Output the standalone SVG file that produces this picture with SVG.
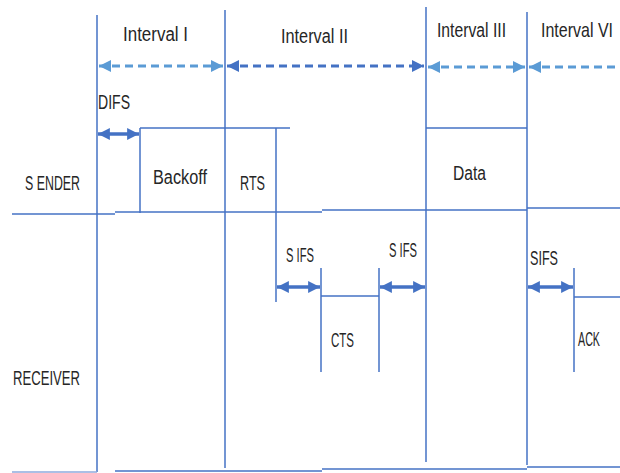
<svg xmlns="http://www.w3.org/2000/svg" width="620" height="473" viewBox="0 0 620 473">
<style>
.ln{stroke:#4472C4;stroke-width:1.5;fill:none}
.lt{stroke:#8FAADC;stroke-width:1.6;fill:none}
.d1{stroke:#5B9BD5;stroke-width:3;stroke-dasharray:8 5;fill:none}
.d2{stroke:#4472C4;stroke-width:3;stroke-dasharray:8 5;fill:none}
.sa{stroke:#4472C4;stroke-width:3.5;fill:none}
.t{font-family:"Liberation Sans",Arial,sans-serif;font-size:20px;fill:#262626}
</style>
<defs>
<marker id="ha" viewBox="0 0 10 10" refX="10" refY="5" markerWidth="4" markerHeight="4" orient="auto-start-reverse" markerUnits="strokeWidth"><path d="M0,0 L10,5 L0,10 z" fill="#5B9BD5"/></marker>
<marker id="hb" viewBox="0 0 10 10" refX="10" refY="5" markerWidth="4" markerHeight="4" orient="auto-start-reverse" markerUnits="strokeWidth"><path d="M0,0 L10,5 L0,10 z" fill="#4472C4"/></marker>
<marker id="hs" viewBox="0 0 10 10" refX="10" refY="5" markerWidth="3.4" markerHeight="3.6" orient="auto-start-reverse" markerUnits="strokeWidth"><path d="M0,0 L10,5 L0,10 z" fill="#4472C4"/></marker>
</defs>
<g id="frame">
<line class="ln" x1="97" y1="15" x2="97" y2="472"/>
<line class="ln" x1="225" y1="10" x2="225" y2="468"/>
<line class="ln" x1="426" y1="7" x2="426" y2="462"/>
<line class="ln" x1="527" y1="12" x2="527" y2="465"/>
</g>
<g id="sender">
<polyline class="ln" points="12,214 115,214"/>
<polyline class="ln" points="115,212 322,212"/>
<polyline class="ln" points="322,210 527,210"/>
<polyline class="ln" points="527,208 620,208"/>
<text class="t" x="25" y="190" textLength="55" lengthAdjust="spacingAndGlyphs">S ENDER</text>
</g>
<g id="backoff">
<line class="ln" x1="140" y1="128" x2="140" y2="213"/>
<line class="ln" x1="140" y1="128" x2="290" y2="128"/>
<text class="t" x="153" y="184" textLength="54" lengthAdjust="spacingAndGlyphs">Backoff</text>
</g>
<g id="rts">
<line class="ln" x1="276" y1="128" x2="276" y2="302"/>
<text class="t" x="240" y="190" textLength="25" lengthAdjust="spacingAndGlyphs">RTS</text>
</g>
<g id="data">
<line class="ln" x1="426" y1="128" x2="527" y2="128"/>
<text class="t" x="453" y="180" textLength="33" lengthAdjust="spacingAndGlyphs">Data</text>
</g>
<g id="receiver">
<line class="lt" x1="12" y1="472" x2="97" y2="472"/>
<line class="ln" x1="115" y1="471" x2="322" y2="471"/>
<line class="ln" x1="322" y1="469" x2="527" y2="469"/>
<line class="ln" x1="527" y1="467" x2="620" y2="467"/>
<text class="t" x="13" y="385" textLength="67" lengthAdjust="spacingAndGlyphs">RECEIVER</text>
</g>
<g id="cts">
<line class="ln" x1="321" y1="268" x2="321" y2="372"/>
<line class="ln" x1="379" y1="268" x2="379" y2="372"/>
<line class="ln" x1="321" y1="296" x2="379" y2="296"/>
<text class="t" x="331" y="347" textLength="23" lengthAdjust="spacingAndGlyphs">CTS</text>
</g>
<g id="ack">
<line class="ln" x1="574" y1="268" x2="574" y2="372"/>
<line class="ln" x1="574" y1="297" x2="620" y2="297"/>
<text class="t" x="578" y="346" textLength="22" lengthAdjust="spacingAndGlyphs">ACK</text>
</g>
<g id="labels">
<text class="t" x="123" y="41" textLength="65" lengthAdjust="spacingAndGlyphs">Interval I</text>
<text class="t" x="281" y="43" textLength="67" lengthAdjust="spacingAndGlyphs">Interval II</text>
<text class="t" x="437" y="37" textLength="69" lengthAdjust="spacingAndGlyphs">Interval III</text>
<text class="t" x="0" y="0" transform="translate(541,37) scale(1,1.18)" style="font-size:17px" textLength="72" lengthAdjust="spacingAndGlyphs">Interval VI</text>
<text class="t" x="98" y="109" textLength="32" lengthAdjust="spacingAndGlyphs">DIFS</text>
<text class="t" x="286" y="262" textLength="28" lengthAdjust="spacingAndGlyphs">S IFS</text>
<text class="t" x="389" y="257" textLength="28" lengthAdjust="spacingAndGlyphs">S IFS</text>
<text class="t" x="530" y="265" textLength="28" lengthAdjust="spacingAndGlyphs">SIFS</text>
</g>
<g id="connectors">
<line class="d1" x1="99" y1="66" x2="223" y2="66" marker-start="url(#ha)" marker-end="url(#ha)"/>
<line class="d2" x1="227" y1="66" x2="424" y2="66" marker-start="url(#hb)" marker-end="url(#hb)"/>
<line class="d1" x1="428" y1="67" x2="525" y2="67" marker-start="url(#ha)" marker-end="url(#ha)"/>
<line class="d1" x1="529" y1="67" x2="620" y2="67" marker-start="url(#ha)"/>
<line class="sa" x1="98" y1="134" x2="139" y2="134" marker-start="url(#hs)" marker-end="url(#hs)"/>
<line class="sa" x1="277" y1="287" x2="320" y2="287" marker-start="url(#hs)" marker-end="url(#hs)"/>
<line class="sa" x1="380" y1="287" x2="425" y2="287" marker-start="url(#hs)" marker-end="url(#hs)"/>
<line class="sa" x1="528" y1="287" x2="573" y2="287" marker-start="url(#hs)" marker-end="url(#hs)"/>
</g>
</svg>
